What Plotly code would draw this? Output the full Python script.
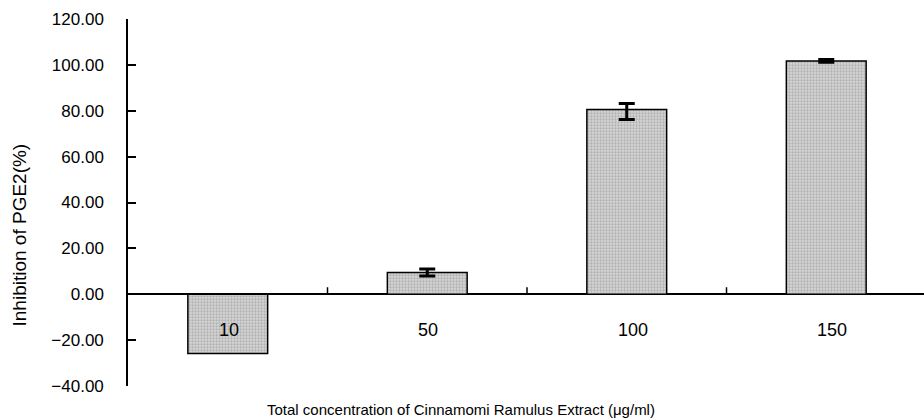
import plotly.graph_objects as go

categories = ["10", "50", "100", "150"]
inhibition = [-25.8, 9.5, 80.5, 101.7]
err_categories = ["50", "100", "150"]
err_centers = [9.5, 79.5, 101.7]
err_plus = [1.5, 3.7, 0.6]
err_minus = [1.5, 3.3, 0.6]
y_ticks = [-40, -20, 0, 20, 40, 60, 80, 100, 120]
x_title = "Total concentration of Cinnamomi Ramulus Extract (\u03bcg/ml)"
y_title = "Inhibition of PGE2(%)"

FONT = "Liberation Sans, Arial, sans-serif"

fig = go.Figure()
fig.add_trace(go.Bar(
    x=categories, y=inhibition, width=0.4,
    marker=dict(
        color="#c4c4c4",
        line=dict(color="black", width=1.5),
        pattern=dict(shape=".", fgcolor="#8c8c8c", bgcolor="#d6d6d6", size=3, solidity=0.45),
    ),
    showlegend=False,
))
fig.add_trace(go.Scatter(
    x=err_categories, y=err_centers, mode="markers",
    marker=dict(size=0.1, color="black", opacity=0),
    error_y=dict(type="data", symmetric=False, array=err_plus, arrayminus=err_minus,
                 color="black", thickness=3, width=8),
    showlegend=False, hoverinfo="skip",
))

# category labels below the zero line
for i, c in enumerate(categories):
    fig.add_annotation(x=i, y=-15.5, xref="x", yref="y", text=c, showarrow=False,
                       xanchor="left", xshift=-11,
                       font=dict(family=FONT, size=18, color="black"))

# small upward tick marks on the zero line between categories
for i in range(len(categories) - 1):
    fig.add_shape(type="line", xref="x", yref="y", x0=i + 0.5, x1=i + 0.5,
                  ysizemode="pixel", yanchor=0, y0=0, y1=7,
                  line=dict(color="black", width=1.5))

fig.add_annotation(x=0.418, y=0, xref="paper", yref="paper", yshift=-23,
                   text=x_title, showarrow=False, yanchor="middle",
                   font=dict(family=FONT, size=15, color="black"))

fig.add_annotation(x=0, y=0.5, xref="paper", yref="paper", xshift=-109, yshift=-33,
                   text=y_title, showarrow=False, textangle=-90,
                   xanchor="center", yanchor="middle",
                   font=dict(family=FONT, size=19, color="black"))

fig.update_layout(
    width=924, height=420,
    margin=dict(l=128, r=0, t=19, b=34),
    paper_bgcolor="white", plot_bgcolor="white",
    font=dict(family=FONT, color="black"),
    xaxis=dict(type="category", categoryorder="array", categoryarray=categories,
               range=[-0.5, 3.49], showticklabels=False,
               showline=False, ticks="", showgrid=False, zeroline=False),
    yaxis=dict(range=[-40, 120], tickvals=y_ticks, tickformat=".2f",
               ticks="inside", ticklen=8, tickwidth=1.5, tickcolor="black",
               showline=True, linecolor="black", linewidth=1.5,
               showgrid=False, zeroline=True, zerolinecolor="black", zerolinewidth=1.5,
               tickfont=dict(family=FONT, size=17, color="black"),
               ticklabelstandoff=19),
)

fig.write_html("out.html")
